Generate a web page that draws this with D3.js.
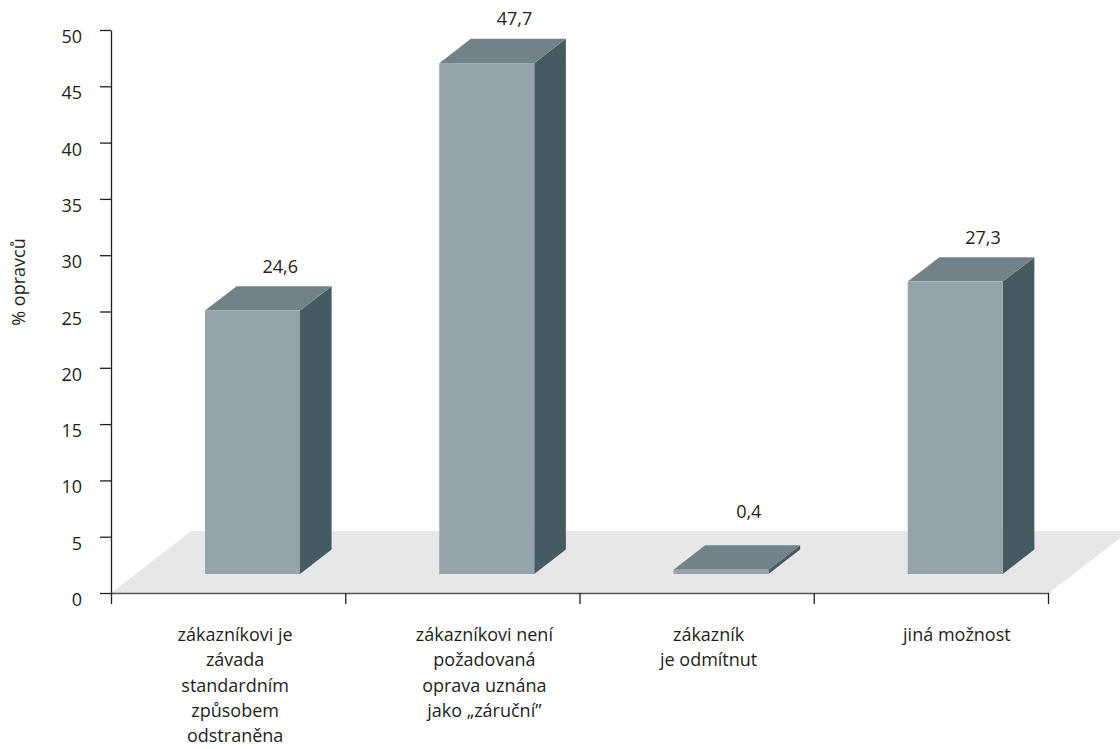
<!DOCTYPE html>
<html lang="cs">
<head>
<meta charset="utf-8">
<script src="https://cdn.jsdelivr.net/npm/d3@7"></script>
<style>
  html, body { margin: 0; padding: 0; background: #fff; }
  svg { display: block; font-family: "Open Sans", "Noto Sans", sans-serif; }
</style>
</head>
<body>
<svg id="chart" width="1120" height="749"></svg>
<script>
// Data
const categories = [
  "zákazníkovi je závada standardním způsobem odstraněna",
  "zákazníkovi není požadovaná oprava uznána jako „záruční”",
  "zákazník je odmítnut",
  "jiná možnost"
];
const categoryLines = [
  ["zákazníkovi je", "závada", "standardním", "způsobem", "odstraněna"],
  ["zákazníkovi není", "požadovaná", "oprava uznána", "jako „záruční”"],
  ["zákazník", "je odmítnut"],
  ["jiná možnost"]
];
const values = [24.6, 47.7, 0.4, 27.3];
const valueLabels = ["24,6", "47,7", "0,4", "27,3"];
const yTicks = [0, 5, 10, 15, 20, 25, 30, 35, 40, 45, 50];
const yTitle = "% opravců";

(function draw() {
  const svg = d3.select("#chart");
  const plotLeft = 111, plotRight = 1048, plotTop = 30, plotBase = 593;
  const fontSize = 18;

  // Front (axis) plane scales
  const x = d3.scaleBand().domain(categories).range([plotLeft, plotRight]);
  const xEdge = d3.scaleLinear().domain([0, categories.length]).range([plotLeft, plotRight]);
  const y = d3.scaleLinear().domain([0, 50]).range([plotBase, plotTop]);

  // Floor depth vector and the plane in which the bar fronts sit
  const floorDepth = { dx: 80.4, dy: -62 };
  const barDepth = { dx: 31.6, dy: -24.4 };
  const yBar = d3.scaleLinear().domain([0, 50]).range([574, 38.5]);
  const barInset = 94, barWidth = 95;

  const colors = {
    floor: "#e6e7e8",
    front: "#95a3aa",
    top: "#728289",
    side: "#465a63",
    text: "#231f20",
    axis: "#231f20"
  };

  // Floor
  svg.append("path")
    .attr("d", d3.line()([
      [plotLeft, plotBase],
      [plotRight + 1, plotBase],
      [plotRight + 1 + floorDepth.dx, plotBase + floorDepth.dy],
      [plotLeft + floorDepth.dx, plotBase + floorDepth.dy]
    ]) + "Z")
    .attr("fill", colors.floor);

  // Bars as oblique prisms
  const bars = svg.append("g").selectAll("g")
    .data(categories.map((c, i) => ({ c, v: values[i], label: valueLabels[i] })))
    .join("g");

  bars.each(function(d) {
    const g = d3.select(this);
    const x0 = x(d.c) + barInset, x1 = x0 + barWidth;
    const yb = yBar(0), yt = yBar(d.v);
    const { dx, dy } = barDepth;
    // right side
    g.append("path")
      .attr("d", d3.line()([[x1, yb], [x1 + dx, yb + dy], [x1 + dx, yt + dy], [x1, yt]]) + "Z")
      .attr("fill", colors.side);
    // top
    g.append("path")
      .attr("d", d3.line()([[x0, yt], [x1, yt], [x1 + dx, yt + dy], [x0 + dx, yt + dy]]) + "Z")
      .attr("fill", colors.top);
    // front
    g.append("rect")
      .attr("x", x0).attr("y", yt)
      .attr("width", barWidth).attr("height", yb - yt)
      .attr("fill", colors.front);

    // value label above the bar (or above the floor's back edge for tiny bars)
    const labelY = Math.min(yt + dy, plotBase + floorDepth.dy) - 13.5;
    g.append("text")
      .attr("x", x0 + (barWidth + dx) / 2 + 12)
      .attr("y", labelY)
      .attr("text-anchor", "middle")
      .attr("font-size", fontSize)
      .attr("fill", colors.text)
      .text(d.label);
  });

  // Y axis
  const yAxis = svg.append("g")
    .attr("transform", `translate(${plotLeft},0)`)
    .call(d3.axisLeft(y).tickValues(yTicks).tickSize(11).tickSizeOuter(0).tickFormat(d => d));
  yAxis.select(".domain").attr("stroke", colors.axis).attr("stroke-width", 1.3);
  yAxis.selectAll(".tick line").attr("stroke", colors.axis).attr("stroke-width", 1.3);
  yAxis.selectAll(".tick text")
    .attr("x", -29)
    .attr("dy", null)
    .attr("y", 12.5)
    .attr("font-size", fontSize)
    .attr("font-family", "'Open Sans', sans-serif")
    .attr("fill", colors.text);

  // X axis along the floor front edge
  const xAxis = svg.append("g")
    .attr("transform", `translate(0,${plotBase})`)
    .call(d3.axisBottom(xEdge).tickValues(d3.range(categories.length + 1)).tickSize(11).tickSizeOuter(0).tickFormat(""));
  xAxis.select(".domain").attr("stroke", "#555").attr("stroke-width", 1.6);
  xAxis.selectAll(".tick line").attr("stroke", colors.axis).attr("stroke-width", 1.3);

  // Category labels (wrapped lines)
  const labelNudge = [7, 22, 12, 26];
  const catLabels = svg.append("g").selectAll("text")
    .data(categories)
    .join("text")
    .attr("text-anchor", "middle")
    .attr("font-size", fontSize)
    .attr("fill", colors.text)
    .attr("transform", (c, i) => `translate(${x(c) + x.bandwidth() / 2 + labelNudge[i]},641)`);
  catLabels.selectAll("tspan")
    .data((c, i) => categoryLines[i])
    .join("tspan")
    .attr("x", 0)
    .attr("y", (t, j) => j * 25.3)
    .text(t => t);

  // Y axis title
  svg.append("text")
    .attr("transform", "translate(25,282) rotate(-90)")
    .attr("text-anchor", "middle")
    .attr("font-size", fontSize)
    .attr("fill", colors.text)
    .text(yTitle);
})();
</script>
</body>
</html>
